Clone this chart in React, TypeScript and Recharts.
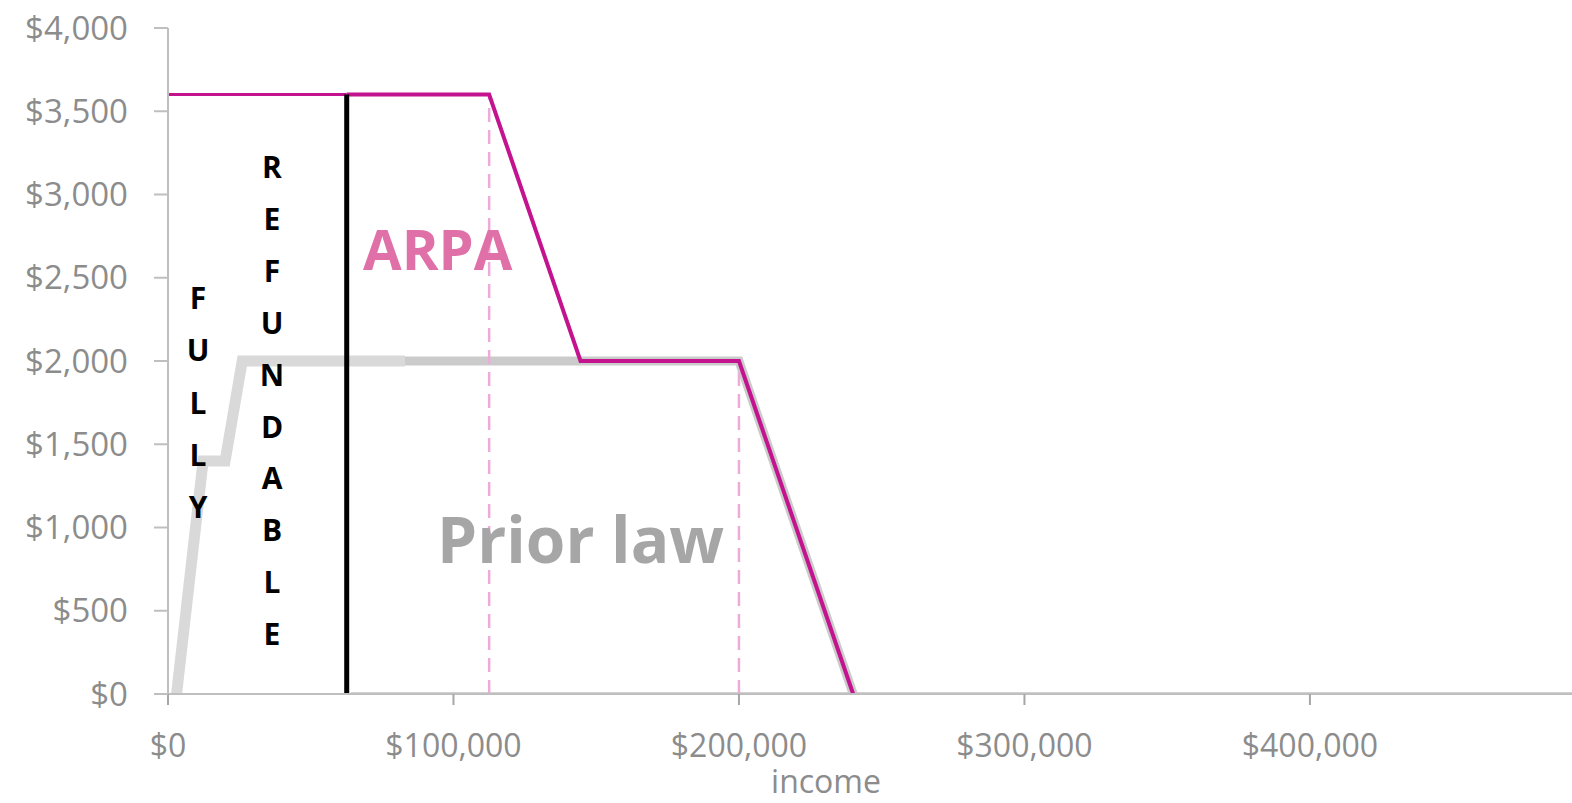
import React from "react";
import { LineChart, Line, XAxis, YAxis } from "recharts";

// ---- data ----
const incomeTicks = [0, 100000, 200000, 300000, 400000];
const creditTicks = [0, 500, 1000, 1500, 2000, 2500, 3000, 3500, 4000];

const arpaLeft = [
  { income: 0, credit: 3600 },
  { income: 62600, credit: 3600 },
];
const arpaMain = [
  { income: 62600, credit: 3600 },
  { income: 112500, credit: 3600 },
  { income: 144500, credit: 2000 },
  { income: 200000, credit: 2000 },
  { income: 240000, credit: 0 },
];
const priorLow = [
  { income: 3000, credit: 0 },
  { income: 12300, credit: 1400 },
  { income: 20000, credit: 1400 },
  { income: 26000, credit: 2000 },
  { income: 83000, credit: 2000 },
];
const priorHigh = [
  { income: 83000, credit: 2000 },
  { income: 200000, credit: 2000 },
  { income: 240000, credit: 0 },
];
const zeroLine = [
  { income: 64000, credit: 0 },
  { income: 491800, credit: 0 },
];
const refundableLimit = [
  { income: 62600, credit: 0 },
  { income: 62600, credit: 3600 },
];
const arpaPhaseOutStart = [
  { income: 112500, credit: 0 },
  { income: 112500, credit: 3600 },
];
const priorPhaseOutStart = [
  { income: 200000, credit: 0 },
  { income: 200000, credit: 2000 },
];

const fullyLetters = ["F", "U", "L", "L", "Y"];
const refundableLetters = ["R", "E", "F", "U", "N", "D", "A", "B", "L", "E"];
const xAxisTitle = "income";

const fmt = (v: number) => "$" + v.toLocaleString("en-US");

const FONT = "'Open Sans', 'DejaVu Sans', sans-serif";
const TICK_COLOR = "#8c8c8c";

export default function App() {
  return (
    <div style={{ position: "absolute", left: 0, top: 0, width: 1572, height: 803, background: "#fff" }}>
      <LineChart
        width={1572}
        height={803}
        margin={{ top: 28, right: 0, bottom: 0, left: 0 }}
        style={{ fontFamily: FONT }}
      >
        <XAxis
          dataKey="income"
          type="number"
          domain={[0, 491800]}
          ticks={incomeTicks}
          allowDataOverflow
          tickFormatter={fmt}
          height={109}
          tickSize={11}
          tickMargin={29}
          axisLine={{ stroke: "#bfbfbf", strokeWidth: 2 }}
          tickLine={{ stroke: "#a6a6a6", strokeWidth: 2 }}
          tick={{ fill: TICK_COLOR, fontSize: 32, fontFamily: FONT }}
        />
        <YAxis
          dataKey="credit"
          type="number"
          domain={[0, 4000]}
          ticks={creditTicks}
          allowDataOverflow
          tickFormatter={fmt}
          width={168}
          tickSize={14}
          tickMargin={26}
          axisLine={{ stroke: "#bfbfbf", strokeWidth: 2 }}
          tickLine={{ stroke: "#bfbfbf", strokeWidth: 2 }}
          tick={{ fill: TICK_COLOR, fontSize: 33, fontFamily: FONT }}
        />
        <Line data={zeroLine} dataKey="credit" stroke="#a6a6a6" strokeWidth={3} dot={false} activeDot={false} isAnimationActive={false} />
        <Line data={priorLow} dataKey="credit" stroke="#d9d9d9" strokeWidth={11} dot={false} activeDot={false} isAnimationActive={false} strokeLinejoin="miter" />
        <Line data={priorHigh} dataKey="credit" stroke="#cbcbcb" strokeWidth={9} dot={false} activeDot={false} isAnimationActive={false} />
        <Line data={arpaPhaseOutStart} dataKey="credit" stroke="#eeaad8" strokeWidth={2.5} strokeDasharray="14 8" dot={false} activeDot={false} isAnimationActive={false} />
        <Line data={priorPhaseOutStart} dataKey="credit" stroke="#eeaad8" strokeWidth={2.5} strokeDasharray="14 8" dot={false} activeDot={false} isAnimationActive={false} />
        <Line data={arpaLeft} dataKey="credit" stroke="#c4138f" strokeWidth={3} dot={false} activeDot={false} isAnimationActive={false} />
        <Line data={arpaMain} dataKey="credit" stroke="#c4138f" strokeWidth={4} dot={false} activeDot={false} isAnimationActive={false} />
        <Line data={refundableLimit} dataKey="credit" stroke="#000000" strokeWidth={5} dot={false} activeDot={false} isAnimationActive={false} />
      </LineChart>
      <svg
        width={1572}
        height={803}
        style={{ position: "absolute", left: 0, top: 0, pointerEvents: "none" }}
      >
        <text x={826} y={793} textAnchor="middle" fontFamily={FONT} fontSize={32} fill={TICK_COLOR}>
          {xAxisTitle}
        </text>
        <text x={363} y={270} fontFamily={FONT} fontWeight={700} fontSize={56} fill="#e070a8">
          ARPA
        </text>
        <text x={437} y={563} fontFamily={FONT} fontWeight={700} fontSize={64} fill="#a6a6a6">
          Prior law
        </text>
        {fullyLetters.map((ch, i) => (
          <text key={"f" + i} x={198} y={309 + i * 52.3} textAnchor="middle" fontFamily={FONT} fontWeight={700} fontSize={30} fill="#000">
            {ch}
          </text>
        ))}
        {refundableLetters.map((ch, i) => (
          <text key={"r" + i} x={272} y={178 + i * 51.9} textAnchor="middle" fontFamily={FONT} fontWeight={700} fontSize={30} fill="#000">
            {ch}
          </text>
        ))}
      </svg>
    </div>
  );
}
